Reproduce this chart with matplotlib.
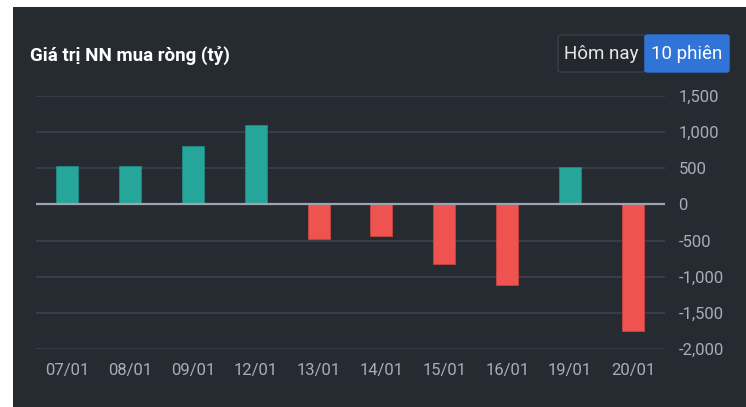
import matplotlib.pyplot as plt
from matplotlib.patches import Rectangle, FancyBboxPatch
from matplotlib.ticker import FuncFormatter

# data
dates = ['07/01', '08/01', '09/01', '12/01', '13/01',
         '14/01', '15/01', '16/01', '19/01', '20/01']
net_buy = [525, 525, 810, 1090, -483, -440, -828, -1118, 515, -1750]
y_ticks = [-2000, -1500, -1000, -500, 0, 500, 1000, 1500]

title = 'Giá trị NN mua ròng (tỷ)'
btn_labels = ['Hôm nay', '10 phiên']

BG = '#262a31'
GRID = '#3d414a'
ZERO = '#9fa4b1'
TXT = '#a9adb8'
UP = '#26a69a'
DOWN = '#ef5350'
BLUE = '#2f74d6'

plt.rcParams['font.family'] = ['Liberation Sans Narrow', 'Roboto', 'DejaVu Sans']

W, H = 746, 407
fig = plt.figure(figsize=(W / 100, H / 100), dpi=100, facecolor='white')

# dark card (there is a thin white margin at top/left in the screenshot)
fig.patches.append(Rectangle((13 / W, 0), 1 - 13 / W, (H - 7) / H,
                             transform=fig.transFigure, facecolor=BG,
                             edgecolor='none', zorder=-5))

ax = fig.add_axes([35.5 / W, 57.7 / H, 629 / W, 253.6 / H])
ax.set_facecolor('none')

x = range(len(dates))
colors = [UP if v >= 0 else DOWN for v in net_buy]
edges = ['#1f8a80' if v >= 0 else '#c84542' for v in net_buy]
ax.bar(x, net_buy, width=0.35, color=colors, edgecolor=edges,
       linewidth=0.6, zorder=3)

ax.set_xlim(-0.5, len(dates) - 0.5)
ax.set_ylim(-2000, 1500)
ax.set_yticks(y_ticks)
for t in y_ticks:
    if t == 0:
        ax.axhline(0, color=ZERO, linewidth=1.6, zorder=4)
    else:
        ax.axhline(t, color=GRID, linewidth=1.2, zorder=1)

ax.yaxis.tick_right()
ax.yaxis.set_major_formatter(FuncFormatter(lambda v, p: f'{int(v):,}'))
ax.set_xticks(list(x))
ax.set_xticklabels(dates)
ax.tick_params(axis='both', length=0, colors=TXT, labelsize=12)
ax.tick_params(axis='y', pad=10)
ax.tick_params(axis='x', pad=10)
for s in ax.spines.values():
    s.set_visible(False)

# title
fig.text(30 / W, 1 - 55 / H, title, color='white', fontsize=13.5,
         fontweight='bold', va='center', ha='left')

# toggle buttons
fig.patches.append(FancyBboxPatch((558 / W, 1 - 72 / H), 87 / W, 37 / H,
                                  boxstyle='round,pad=0,rounding_size=0.004',
                                  transform=fig.transFigure, facecolor='#23272e',
                                  edgecolor='#3a3e47', linewidth=1, zorder=1))
fig.patches.append(FancyBboxPatch((645 / W, 1 - 72 / H), 84 / W, 37 / H,
                                  boxstyle='round,pad=0,rounding_size=0.004',
                                  transform=fig.transFigure, facecolor=BLUE,
                                  edgecolor=BLUE, linewidth=1, zorder=1))
fig.text(601.5 / W, 1 - 54 / H, btn_labels[0], color='#e8e8ea', fontsize=13.5,
         ha='center', va='center')
fig.text(687 / W, 1 - 54 / H, btn_labels[1], color='white', fontsize=13.5,
         ha='center', va='center')

fig.savefig('out.png', dpi=100, facecolor='white')
